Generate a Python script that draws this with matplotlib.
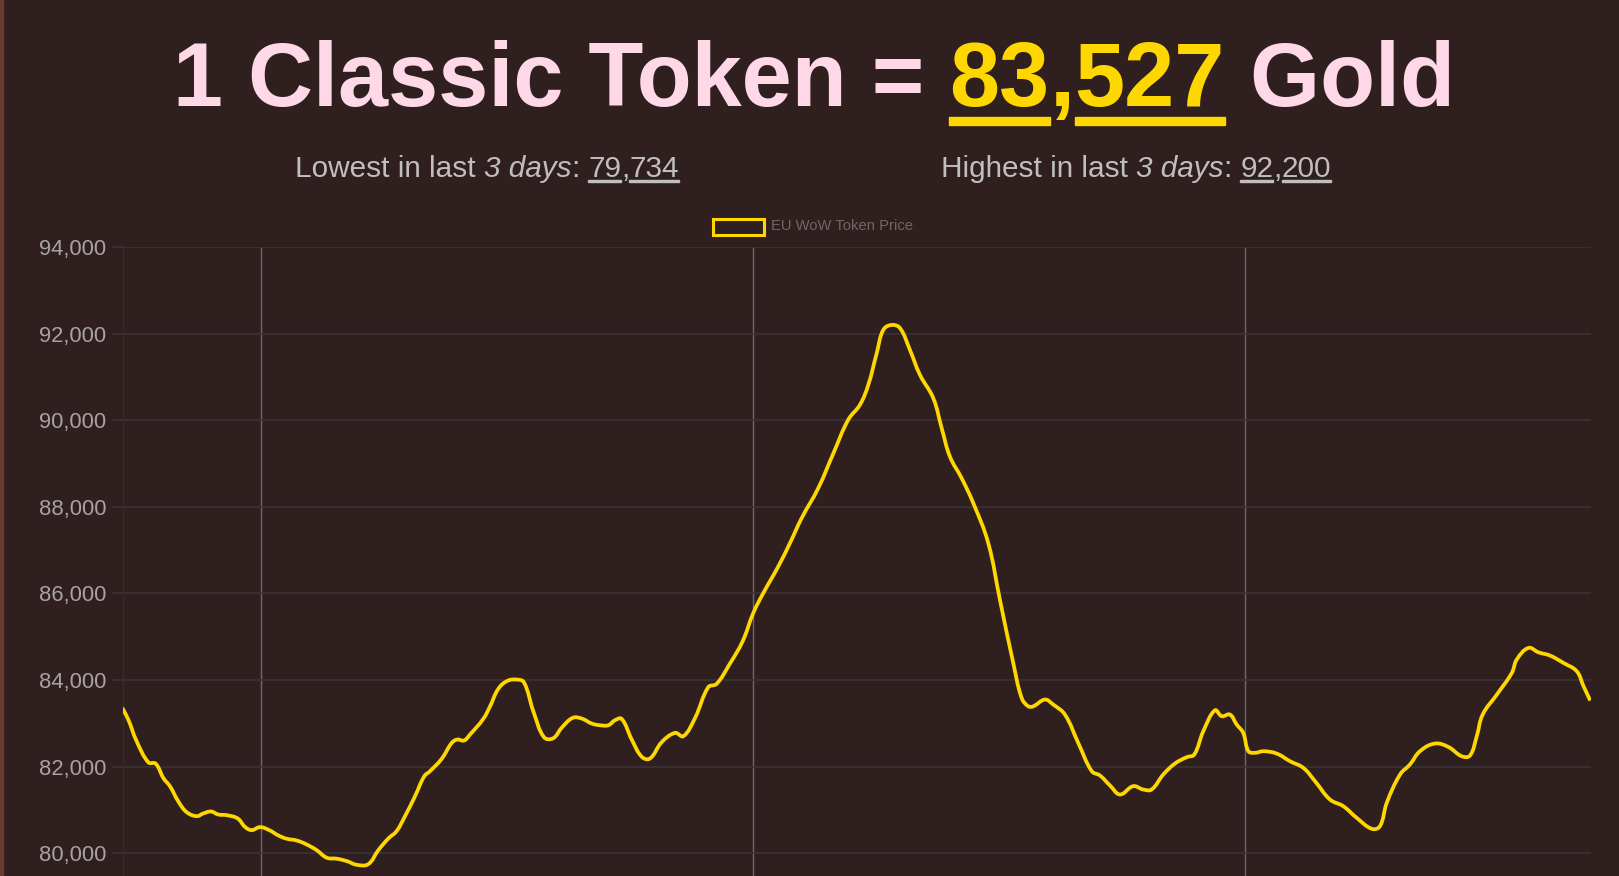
import matplotlib
matplotlib.use("Agg")
import matplotlib.pyplot as plt
from matplotlib.patches import Rectangle, PathPatch
from matplotlib.path import Path
import numpy as np

# hours counted from the first midnight on the chart, and the token price
hours = [-6.78, -6.49, -6.08, -5.51, -5.15, -4.78, -4.45, -4.05, -3.64, -3.15,
         -2.83, -2.45, -2.10, -1.69, -1.15, -0.80, -0.47, -0.06, 0.42, 0.83,
         1.24, 1.72, 2.21, 2.70, 3.19, 3.68, 4.17, 4.66, 5.22, 5.71,
         6.20, 6.60, 7.01, 7.50, 7.95, 8.23, 8.80, 9.29, 9.56, 9.89,
         10.18, 10.83, 11.16, 11.56, 12.00, 12.46, 12.81, 13.27, 13.79, 14.24,
         14.65, 15.19, 15.63, 16.12, 16.52, 16.93, 17.25, 17.58, 18.07, 18.56,
         18.96, 19.53, 20.18, 20.59, 21.16, 21.80, 22.21, 22.83, 23.48, 24.00,
         24.49, 25.22, 25.79, 26.36, 27.17, 27.91, 28.63, 29.20, 29.61, 30.02,
         30.34, 30.75, 31.16, 31.64, 32.13, 32.78, 33.19, 33.59, 34.16, 34.73,
         35.46, 36.03, 36.68, 37.09, 37.41, 37.66, 38.23, 38.63, 39.20, 39.85,
         40.51, 40.91, 41.40, 41.89, 42.53, 43.02, 43.43, 44.00, 44.57, 45.14,
         45.51, 45.95, 46.52, 46.85, 47.25, 47.58, 47.90, 48.15, 48.47, 48.88,
         49.53, 50.18, 50.83, 51.40, 52.13, 52.78, 53.43, 54.17, 54.57, 54.90,
         55.55, 56.03, 56.52, 57.25, 57.90, 58.56, 58.96, 59.29, 59.58, 60.27,
         61.00, 61.24, 61.81, 62.30, 62.87, 63.52, 64.17, 64.50, 64.83]

prices = [83358, 83088, 82587, 82100, 82070, 81740, 81545, 81200, 80950, 80858,
          80920, 80965, 80896, 80880, 80804, 80612, 80535, 80605, 80527, 80412,
          80336, 80297, 80204, 80073, 79898, 79875, 79820, 79734, 79750, 80073,
          80343, 80512, 80858, 81320, 81780, 81896, 82182, 82550, 82627, 82604,
          82742, 83104, 83395, 83796, 83981, 84011, 83950, 83280, 82680, 82657,
          82897, 83127, 83111, 82996, 82957, 82957, 83072, 83104, 82627, 82228,
          82189, 82565, 82780, 82703, 83127, 83834, 83912, 84357, 84896, 85550,
          86010, 86625, 87164, 87741, 88433, 89240, 90010, 90355, 90817, 91548,
          92085, 92200, 92124, 91624, 91047, 90509, 89817, 89162, 88664, 88087,
          87164, 85856, 84396, 83588, 83395, 83395, 83550, 83434, 83204, 82550,
          81896, 81797, 81566, 81358, 81550, 81473, 81473, 81820, 82073, 82219,
          82280, 82818, 83303, 83165, 83204, 82973, 82780, 82357, 82320, 82357,
          82303, 82126, 81973, 81666, 81242, 81088, 80820, 80566, 80627, 81165,
          81820, 82050, 82357, 82534, 82457, 82241, 82257, 82703, 83204, 83665,
          84165, 84472, 84742, 84641, 84565, 84396, 84203, 83857, 83527]

assert len(hours) == len(prices)

day_lines = [0, 24, 48]
yticks = [80000, 82000, 84000, 86000, 88000, 90000, 92000, 94000]
series_name = "EU WoW Token Price"
current = ["83", "527"]
lowest = ["79", "734"]
highest = ["92", "200"]

BG = '#2f201f'
PINK = '#ffd8e8'
GOLD = '#ffd700'
SUB = '#c0bebe'
TICK = '#a8a2a6'
HGRID = '#393436'
VGRID = '#6e696e'

W, H = 1619, 876
plt.rcParams['font.family'] = ['Liberation Sans', 'DejaVu Sans']
fig = plt.figure(figsize=(W / 100, H / 100), dpi=100, facecolor=BG)
renderer = fig.canvas.get_renderer()

# thin border on the left side of the page
fig.patches.append(Rectangle((0, 0), 2.5 / W, 1, transform=fig.transFigure,
                             color='#6b3b30', zorder=5))


def px(size_px):
    return size_px * 72 / 100


def seg_width(s, size, style, weight):
    a = fig.text(0, 0, '|' + s + '|', fontsize=size, style=style, weight=weight)
    b = fig.text(0, 0, '||', fontsize=size, style=style, weight=weight)
    w = a.get_window_extent(renderer).width - b.get_window_extent(renderer).width
    a.remove()
    b.remove()
    return w


def rich_text(segments, cx, baseline, size, weight='normal', ul_off=3, ul_th=1.5):
    # segments: (text, color, style, underline)
    widths = [seg_width(s, size, st, weight) for s, c, st, u in segments]
    x = cx - sum(widths) / 2
    for (s, c, st, u), w in zip(segments, widths):
        fig.text(x / W, 1 - baseline / H, s, fontsize=size, color=c, style=st,
                 weight=weight, ha='left', va='baseline')
        if u:
            fig.patches.append(Rectangle((x / W, 1 - (baseline + ul_off + ul_th) / H),
                                         w / W, ul_th / H, transform=fig.transFigure,
                                         color=c))
        x += w


rich_text([("1 Classic Token = ", PINK, 'normal', False),
           (current[0], GOLD, 'normal', True),
           (",", GOLD, 'normal', False),
           (current[1], GOLD, 'normal', True),
           (" Gold", PINK, 'normal', False)],
          814, 106, px(90), weight='bold', ul_off=11, ul_th=8)

rich_text([("Lowest in last ", SUB, 'normal', False),
           ("3 days", SUB, 'italic', False),
           (": ", SUB, 'normal', False),
           (lowest[0], SUB, 'normal', True),
           (",", SUB, 'normal', False),
           (lowest[1], SUB, 'normal', True)],
          487, 177, px(29.7))

rich_text([("Highest in last ", SUB, 'normal', False),
           ("3 days", SUB, 'italic', False),
           (": ", SUB, 'normal', False),
           (highest[0], SUB, 'normal', True),
           (",", SUB, 'normal', False),
           (highest[1], SUB, 'normal', True)],
          1136, 177, px(29.7))

# legend, drawn by hand like the Chart.js one
fig.patches.append(Rectangle((712.5 / W, 1 - 234.5 / H), 51 / W, 15.5 / H,
                             transform=fig.transFigure, facecolor='none',
                             edgecolor=GOLD, linewidth=2.2))
fig.text(771 / W, 1 - 226.5 / H, series_name, fontsize=px(14.7), color='#6e6767',
         ha='left', va='center')

# plot area
left, right, top = 122.5, 1591, 247
ax = fig.add_axes([left / W, 0, (right - left) / W, (H - top) / H])
ax.set_facecolor(BG)

px_per_h = 20.5
unit_per_px = 14000 / (853.3 - top)
ax.set_xlim(-(261.3 - left) / px_per_h, (right - 261.3) / px_per_h)
ax.set_ylim(94000 - (H - top) * unit_per_px, 94000)

# bezier curve through the points, control points as chart.js (tension 0.4)
x = np.array(hours, dtype=float)
y = np.array(prices, dtype=float)
sx, sy = px_per_h, 1 / unit_per_px
tension = 0.4
verts = [(x[0], y[0])]
codes = [Path.MOVETO]
cps = []
for i in range(len(x)):
    i0, i2 = max(i - 1, 0), min(i + 1, len(x) - 1)
    d01 = np.hypot((x[i] - x[i0]) * sx, (y[i] - y[i0]) * sy)
    d12 = np.hypot((x[i2] - x[i]) * sx, (y[i2] - y[i]) * sy)
    tot = d01 + d12 if d01 + d12 > 0 else 1
    fa, fb = tension * d01 / tot, tension * d12 / tot
    dx, dy = x[i2] - x[i0], y[i2] - y[i0]
    cps.append(((x[i] - fa * dx, y[i] - fa * dy), (x[i] + fb * dx, y[i] + fb * dy)))
for i in range(1, len(x)):
    verts += [cps[i - 1][1], cps[i][0], (x[i], y[i])]
    codes += [Path.CURVE4] * 3
ax.add_patch(PathPatch(Path(verts, codes), facecolor='none', edgecolor=GOLD,
                       linewidth=2.7, joinstyle='round', capstyle='butt', zorder=3))

ax.set_yticks(yticks)
ax.set_yticklabels([f"{v:,}" for v in yticks])
ax.set_xticks(day_lines)
ax.set_xticklabels([])
ax.grid(axis='y', color=HGRID, linewidth=1.2)
ax.grid(axis='x', color=VGRID, linewidth=1.0)
ax.tick_params(axis='y', length=px(11), width=1.2, color=HGRID, pad=px(5),
               labelsize=px(22), labelcolor=TICK)
ax.tick_params(axis='x', length=0)
for side in ['top', 'right', 'bottom']:
    ax.spines[side].set_visible(False)
ax.spines['left'].set_color('#3a2b2a')
ax.spines['left'].set_linewidth(1)

fig.savefig('out.png', dpi=100, facecolor=BG)
